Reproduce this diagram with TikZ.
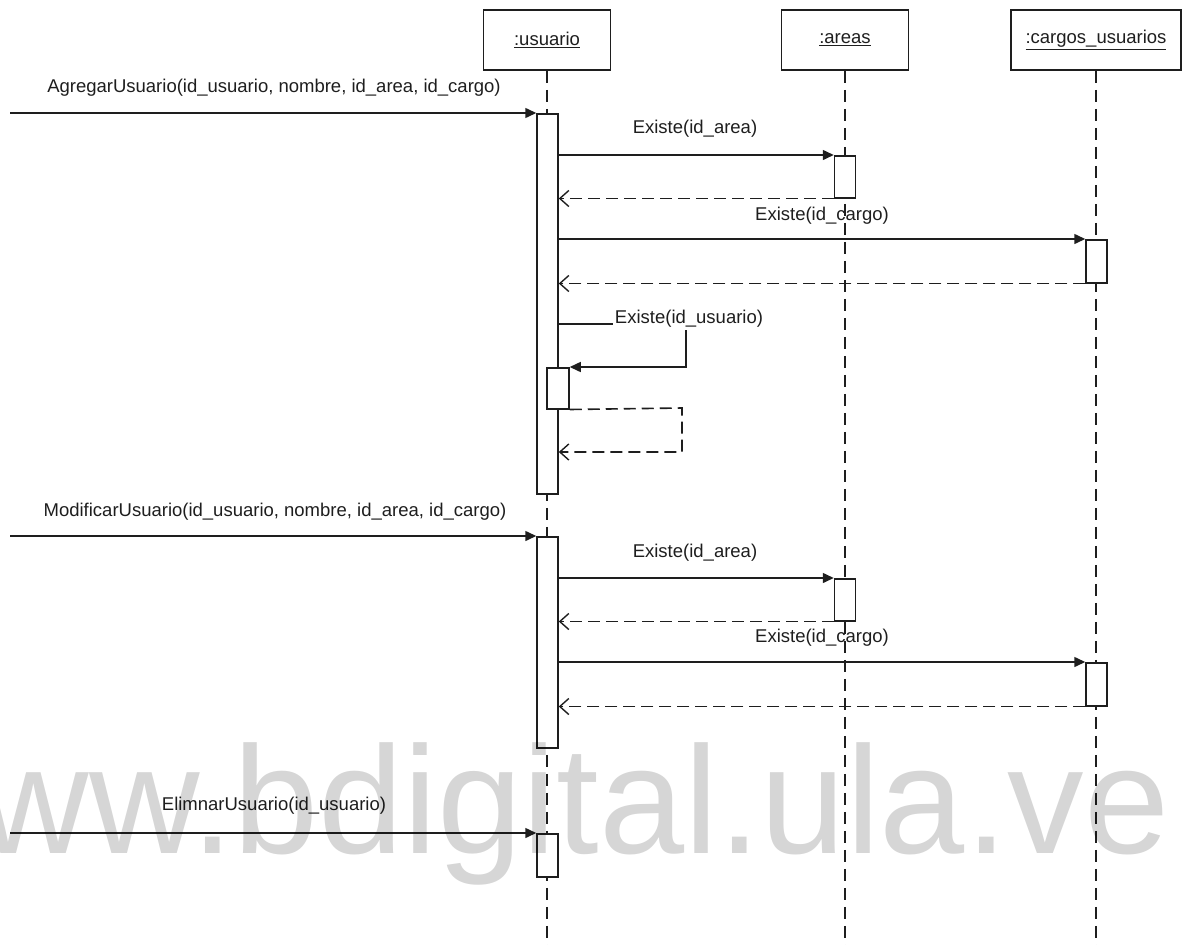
\documentclass[tikz,border=0pt]{standalone}
\usepackage{fontspec}
\setmainfont{Liberation Sans}
\usetikzlibrary{arrows.meta}
\definecolor{ink}{RGB}{30,30,30}
\begin{document}
\begin{tikzpicture}[x=1pt,y=-1pt,
  obj/.style={draw=ink, line width=1.8pt, fill=white, inner sep=0pt, minimum height=60pt, font=\fontsize{18.5}{20}\selectfont, text=ink},
  life/.style={draw=ink, line width=2pt, dash pattern=on 12pt off 7pt},
  act/.style={draw=ink, line width=1.5pt, fill=white, inner sep=0pt, minimum width=21pt, anchor=north},
  msg/.style={draw=ink, line width=1.5pt, -{Triangle[length=11pt,width=10pt]}},
  ret/.style={draw=ink, line width=1.6pt, dash pattern=on 12pt off 6pt, -{Straight Barb[length=9pt,width=16pt,line width=1.4pt]}},
  lbl/.style={font=\fontsize{18.5}{20}\selectfont, text=ink, inner sep=0pt},
]
\useasboundingbox (0,0) rectangle (1184,945);

% objects
\node[obj, minimum width=127pt] (ou) at (547,40) {\underline{:usuario}};
\node[obj, minimum width=127pt] (oa) at (845,40) {\underline{:areas}};
\node[obj, minimum width=170pt] (oc) at (1096,40) {\underline{:cargos\_usuarios}};

% lifeline ends
\coordinate (ue) at (547,945);
\coordinate (ae) at (845,945);
\coordinate (ce) at (1096,945);
\draw[life] (ou.south) -- (ue);
\draw[life] (oa.south) -- (ae);
\draw[life] (oc.south) -- (ce);

% activation bars
\node[act, minimum height=380pt] (u1) at (547.5,113) {};
\node[act, minimum height=42pt] (a1) at (845,155) {};
\node[act, minimum height=43pt] (c1) at (1096.5,239) {};
\node[act, minimum height=41pt, minimum width=22pt] (s1) at (558,367) {};
\node[act, minimum height=211pt] (u2) at (547.5,536) {};
\node[act, minimum height=42pt] (a2) at (845,578) {};
\node[act, minimum height=43pt] (c2) at (1096.5,662) {};
\node[act, minimum height=43pt] (u3) at (547.5,833) {};

% external starts
\coordinate (e1) at (10,113);
\coordinate (e2) at (10,536);
\coordinate (e3) at (10,833);

% block 1
\draw[msg] (e1) -- (u1.north west);
\node[lbl] (l1) at (274,88) {AgregarUsuario(id\_usuario, nombre, id\_area, id\_cargo)};
\draw[msg] (u1.east |- a1.north) -- (a1.north west);
\node[lbl] (l2) at (695,129) {Existe(id\_area)};
\draw[ret] (a1.south west) -- (u1.east |- a1.south);
\draw[msg] (u1.east |- c1.north) -- (c1.north west);
\node[lbl] (l3) at (822,216) {Existe(id\_cargo)};
\draw[ret] (c1.south west) -- (u1.east |- c1.south);

% self call
\coordinate (k1) at (686,324);
\coordinate (k2) at (686,367);
\draw[msg] (u1.east |- k1) -- (k1) -- (k2) -- (s1.north east);
\node[lbl, fill=white, inner sep=2pt] (l4) at (689,319) {Existe(id\_usuario)};
\coordinate (k3) at (682,408);
\coordinate (k4) at (682,452);
\draw[ret] (s1.south east) -- (k3) -- (k4) -- (u1.east |- k4);

% block 2
\draw[msg] (e2) -- (u2.north west);
\node[lbl] (l5) at (275,512) {ModificarUsuario(id\_usuario, nombre, id\_area, id\_cargo)};
\draw[msg] (u2.east |- a2.north) -- (a2.north west);
\node[lbl] (l6) at (695,553) {Existe(id\_area)};
\draw[ret] (a2.south west) -- (u2.east |- a2.south);
\draw[msg] (u2.east |- c2.north) -- (c2.north west);
\node[lbl] (l7) at (822,638) {Existe(id\_cargo)};
\draw[ret] (c2.south west) -- (u2.east |- c2.south);

% block 3
\draw[msg] (e3) -- (u3.north west);
\node[lbl] (l8) at (274,806) {ElimnarUsuario(id\_usuario)};

% watermark
\begin{scope}
\clip (0,0) rectangle (1184,945);
\node[anchor=base west, inner sep=0pt, text=black, text opacity=0.16, font=\fontsize{153}{153}\selectfont] (wm) at (-132,853) {www.bdigital.ula.ve};
\end{scope}
\end{tikzpicture}
\end{document}
